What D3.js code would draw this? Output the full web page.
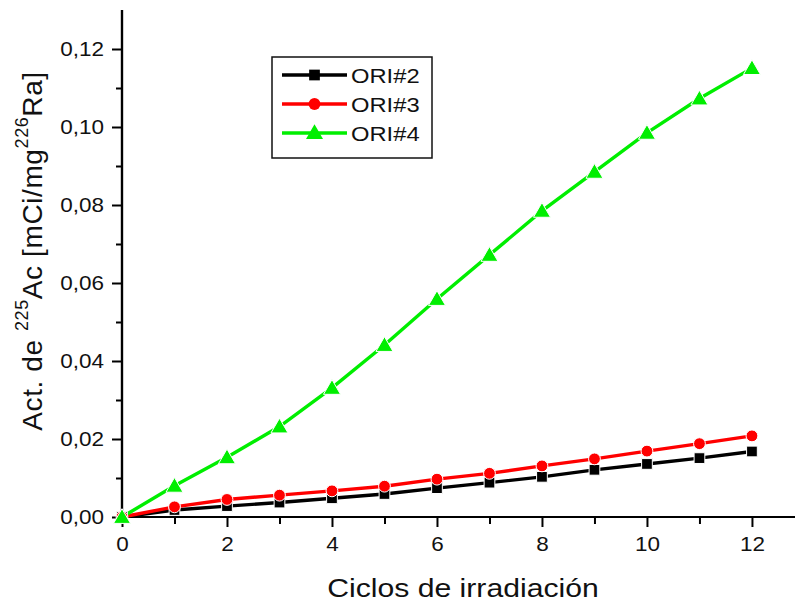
<!DOCTYPE html>
<html>
<head>
<meta charset="utf-8">
<script src="https://cdn.jsdelivr.net/npm/d3@7"></script>
<style>
  html, body { margin: 0; padding: 0; background: #fff; }
  svg { display: block; font-family: Arial, "Liberation Sans", sans-serif; }
</style>
</head>
<body>
<svg id="chart" width="795" height="604"></svg>
<script>
// Irradiation cycles and the activity of 225Ac per mg of 226Ra for each target
const cycles = [0, 1, 2, 3, 4, 5, 6, 7, 8, 9, 10, 11, 12];
const ori2 = [0, 0.0018, 0.0028, 0.0037, 0.0048, 0.0059, 0.0074, 0.0088, 0.0103, 0.0121, 0.0136, 0.0151, 0.0168];
const ori3 = [0, 0.0026, 0.0045, 0.0056, 0.0067, 0.0079, 0.0097, 0.0112, 0.0131, 0.0149, 0.0169, 0.0188, 0.0208];
const ori4 = [0, 0.0080, 0.0153, 0.0232, 0.0331, 0.0441, 0.0559, 0.0672, 0.0785, 0.0885, 0.0985, 0.1073, 0.1151];
const seriesNames = ["ORI#2", "ORI#3", "ORI#4"];
const seriesColors = ["#000000", "#ff0000", "#00ee00"];
const seriesSymbols = [d3.symbolSquare, d3.symbolCircle, d3.symbolTriangle];
const xTicks = [0, 2, 4, 6, 8, 10, 12];
const yTicks = [0, 0.02, 0.04, 0.06, 0.08, 0.10, 0.12];

const svg = d3.select("#chart");
const x = d3.scaleLinear().domain([0, 12.82]).range([122, 795]);
const y = d3.scaleLinear().domain([0, 0.13]).range([517, 10]);
const fmtY = v => d3.format(".2f")(v).replace(".", ",");
const FONT = "Arial, 'Liberation Sans', sans-serif";

// Widen glyphs slightly for the broad sans-serif look of the labels
function widen(sel, k) {
  sel.each(function () {
    const w = this.getComputedTextLength();
    d3.select(this).attr("textLength", w * k).attr("lengthAdjust", "spacingAndGlyphs");
  });
}

// Axes with major and minor ticks pointing outward
const xMinor = d3.range(1, 13, 2);
const yMinor = d3.range(0.01, 0.13, 0.02);

const gx = svg.append("g").attr("transform", `translate(0,${y(0)})`);
gx.call(d3.axisBottom(x).tickValues(xMinor).tickSize(7).tickFormat(""));
gx.call(g => g.append("g").call(d3.axisBottom(x).tickValues(xTicks).tickSize(10).tickPadding(9).tickFormat(d3.format("d"))));
gx.selectAll(".domain").attr("stroke-width", 2.2).attr("d", `M${x(0)},0H795`);
gx.selectAll("line").attr("stroke-width", 2);
gx.selectAll("text").attr("font-size", 21).attr("fill", "#111").attr("font-family", FONT).call(widen, 1.07);

const gy = svg.append("g").attr("transform", `translate(${x(0)},0)`);
gy.call(d3.axisLeft(y).tickValues(yMinor).tickSize(6).tickFormat(""));
gy.call(g => g.append("g").call(d3.axisLeft(y).tickValues(yTicks).tickSize(10).tickPadding(8).tickFormat(fmtY)));
gy.selectAll(".domain").attr("stroke-width", 2.2).attr("d", `M0,${y(0)}V10`);
gy.selectAll("line").attr("stroke-width", 2);
gy.selectAll("text").attr("font-size", 21).attr("fill", "#111").attr("font-family", FONT).call(widen, 1.07);

// Axis titles
svg.append("text")
  .attr("x", 463).attr("y", 597)
  .attr("text-anchor", "middle")
  .attr("font-size", 26).attr("fill", "#111")
  .text("Ciclos de irradiación")
  .call(widen, 1.16);

const yTitle = svg.append("text")
  .attr("transform", "translate(42,251) rotate(-90)")
  .attr("text-anchor", "middle")
  .attr("font-size", 28).attr("letter-spacing", 0.6).attr("fill", "#111");
yTitle.append("tspan").text("Act. de ");
yTitle.append("tspan").attr("font-size", 18).attr("dy", -14).text("225");
yTitle.append("tspan").attr("dy", 14).text("Ac [mCi/mg");
yTitle.append("tspan").attr("font-size", 18).attr("dy", -14).text("226");
yTitle.append("tspan").attr("dy", 14).text("Ra]");

// Series lines and markers
const allSeries = [ori2, ori3, ori4];
const line = d3.line().x((d, i) => x(cycles[i])).y(d => y(d));
const markerSize = [115, 110, 125];

allSeries.forEach((vals, s) => {
  svg.append("path")
    .datum(vals)
    .attr("fill", "none")
    .attr("stroke", seriesColors[s])
    .attr("stroke-width", 3.4)
    .attr("d", line);
});
allSeries.forEach((vals, s) => {
  svg.append("g").selectAll("path")
    .data(vals)
    .join("path")
    .attr("transform", (d, i) => `translate(${x(cycles[i])},${y(d) + (s === 2 ? 1.5 : 0)})`)
    .attr("d", d3.symbol().type(seriesSymbols[s]).size(markerSize[s]))
    .attr("fill", seriesColors[s])
    .attr("stroke", "#fff")
    .attr("stroke-width", 1);
});

// Legend
const lg = svg.append("g");
lg.append("rect")
  .attr("x", 272).attr("y", 57).attr("width", 160).attr("height", 101)
  .attr("fill", "#fff").attr("stroke", "#111").attr("stroke-width", 1.5);
seriesNames.forEach((name, s) => {
  const cy = 75 + s * 29;
  lg.append("line")
    .attr("x1", 282).attr("x2", 347).attr("y1", cy).attr("y2", cy)
    .attr("stroke", seriesColors[s]).attr("stroke-width", 3.4);
  lg.append("path")
    .attr("transform", `translate(314.5,${cy + (s === 2 ? 1 : 0)})`)
    .attr("d", d3.symbol().type(seriesSymbols[s]).size(markerSize[s]))
    .attr("fill", seriesColors[s]);
  lg.append("text")
    .attr("x", 351).attr("y", cy + 7.5)
    .attr("font-size", 21).attr("fill", "#111")
    .text(name)
    .call(widen, 1.13);
});
</script>
</body>
</html>
